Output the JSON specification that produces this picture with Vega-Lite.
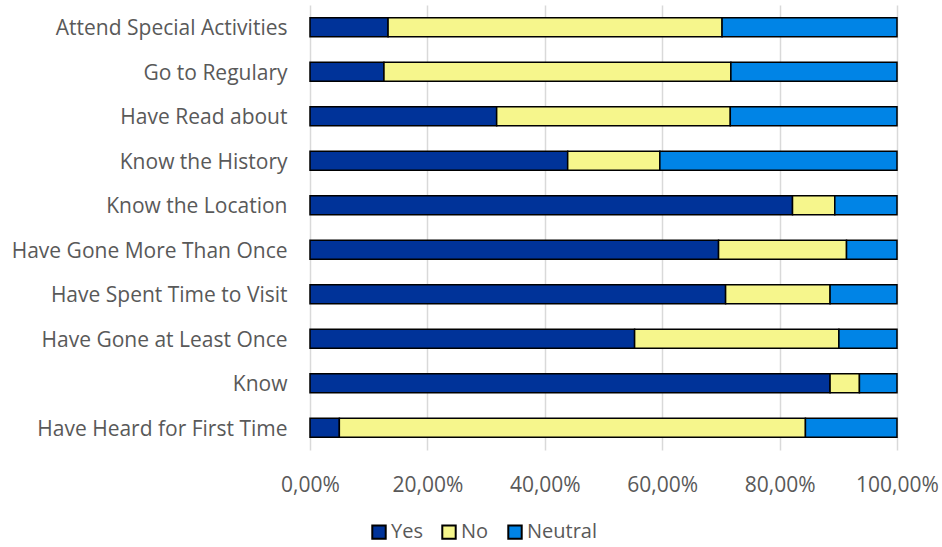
{
  "$schema": "https://vega.github.io/schema/vega-lite/v6.json",
  "width": 587,
  "height": 445,
  "autosize": {"type": "none"},
  "padding": {"left": 310, "top": 5, "right": 45, "bottom": 97},
  "background": "white",
  "config": {
    "view": {"stroke": null},
    "font": "Open Sans"
  },
  "data": {
    "values": [
      {"item": "Attend Special Activities", "answer": "Yes", "share": 0.133},
      {"item": "Attend Special Activities", "answer": "No", "share": 0.569},
      {"item": "Attend Special Activities", "answer": "Neutral", "share": 0.298},
      {"item": "Go to Regulary", "answer": "Yes", "share": 0.126},
      {"item": "Go to Regulary", "answer": "No", "share": 0.591},
      {"item": "Go to Regulary", "answer": "Neutral", "share": 0.283},
      {"item": "Have Read about", "answer": "Yes", "share": 0.318},
      {"item": "Have Read about", "answer": "No", "share": 0.398},
      {"item": "Have Read about", "answer": "Neutral", "share": 0.284},
      {"item": "Know the History", "answer": "Yes", "share": 0.439},
      {"item": "Know the History", "answer": "No", "share": 0.157},
      {"item": "Know the History", "answer": "Neutral", "share": 0.404},
      {"item": "Know the Location", "answer": "Yes", "share": 0.822},
      {"item": "Know the Location", "answer": "No", "share": 0.072},
      {"item": "Know the Location", "answer": "Neutral", "share": 0.106},
      {"item": "Have Gone More Than Once", "answer": "Yes", "share": 0.696},
      {"item": "Have Gone More Than Once", "answer": "No", "share": 0.218},
      {"item": "Have Gone More Than Once", "answer": "Neutral", "share": 0.086},
      {"item": "Have Spent Time to Visit", "answer": "Yes", "share": 0.708},
      {"item": "Have Spent Time to Visit", "answer": "No", "share": 0.178},
      {"item": "Have Spent Time to Visit", "answer": "Neutral", "share": 0.114},
      {"item": "Have Gone at Least Once", "answer": "Yes", "share": 0.553},
      {"item": "Have Gone at Least Once", "answer": "No", "share": 0.348},
      {"item": "Have Gone at Least Once", "answer": "Neutral", "share": 0.099},
      {"item": "Know", "answer": "Yes", "share": 0.886},
      {"item": "Know", "answer": "No", "share": 0.050},
      {"item": "Know", "answer": "Neutral", "share": 0.064},
      {"item": "Have Heard for First Time", "answer": "Yes", "share": 0.050},
      {"item": "Have Heard for First Time", "answer": "No", "share": 0.794},
      {"item": "Have Heard for First Time", "answer": "Neutral", "share": 0.156}
    ]
  },
  "mark": {"type": "bar", "stroke": "black", "strokeWidth": 1.5},
  "encoding": {
    "y": {
      "field": "item",
      "type": "nominal",
      "sort": null,
      "scale": {"paddingInner": 0.57, "paddingOuter": 0.285},
      "axis": {
        "title": null,
        "domain": false,
        "ticks": false,
        "labelPadding": 23,
        "labelOffset": 2,
        "labelFontSize": 21,
        "labelColor": "#595959",
        "labelLimit": 400
      }
    },
    "x": {
      "field": "share",
      "type": "quantitative",
      "stack": "zero",
      "scale": {"domain": [0, 1], "nice": false},
      "axis": {
        "title": null,
        "values": [0, 0.2, 0.4, 0.6, 0.8, 1],
        "labelExpr": "replace(format(datum.value, '.2%'), '.', ',')",
        "domain": false,
        "ticks": false,
        "grid": true,
        "gridColor": "#D9D9D9",
        "gridWidth": 1.5,
        "labelPadding": 24,
        "labelFontSize": 21,
        "labelColor": "#595959",
        "labelFlush": false
      }
    },
    "color": {
      "field": "answer",
      "type": "nominal",
      "sort": ["Yes", "No", "Neutral"],
      "scale": {"domain": ["Yes", "No", "Neutral"], "range": ["#003399", "#F6F68C", "#0084E6"]},
      "legend": {
        "title": null,
        "orient": "none",
        "legendX": 59,
        "legendY": 517,
        "direction": "horizontal",
        "symbolType": "square",
        "symbolSize": 180,
        "symbolStrokeColor": "black",
        "symbolStrokeWidth": 2,
        "labelFontSize": 20,
        "labelColor": "#595959",
        "labelOffset": 2,
        "columnPadding": 15
      }
    },
    "order": {"field": "answer", "sort": "descending"}
  }
}
